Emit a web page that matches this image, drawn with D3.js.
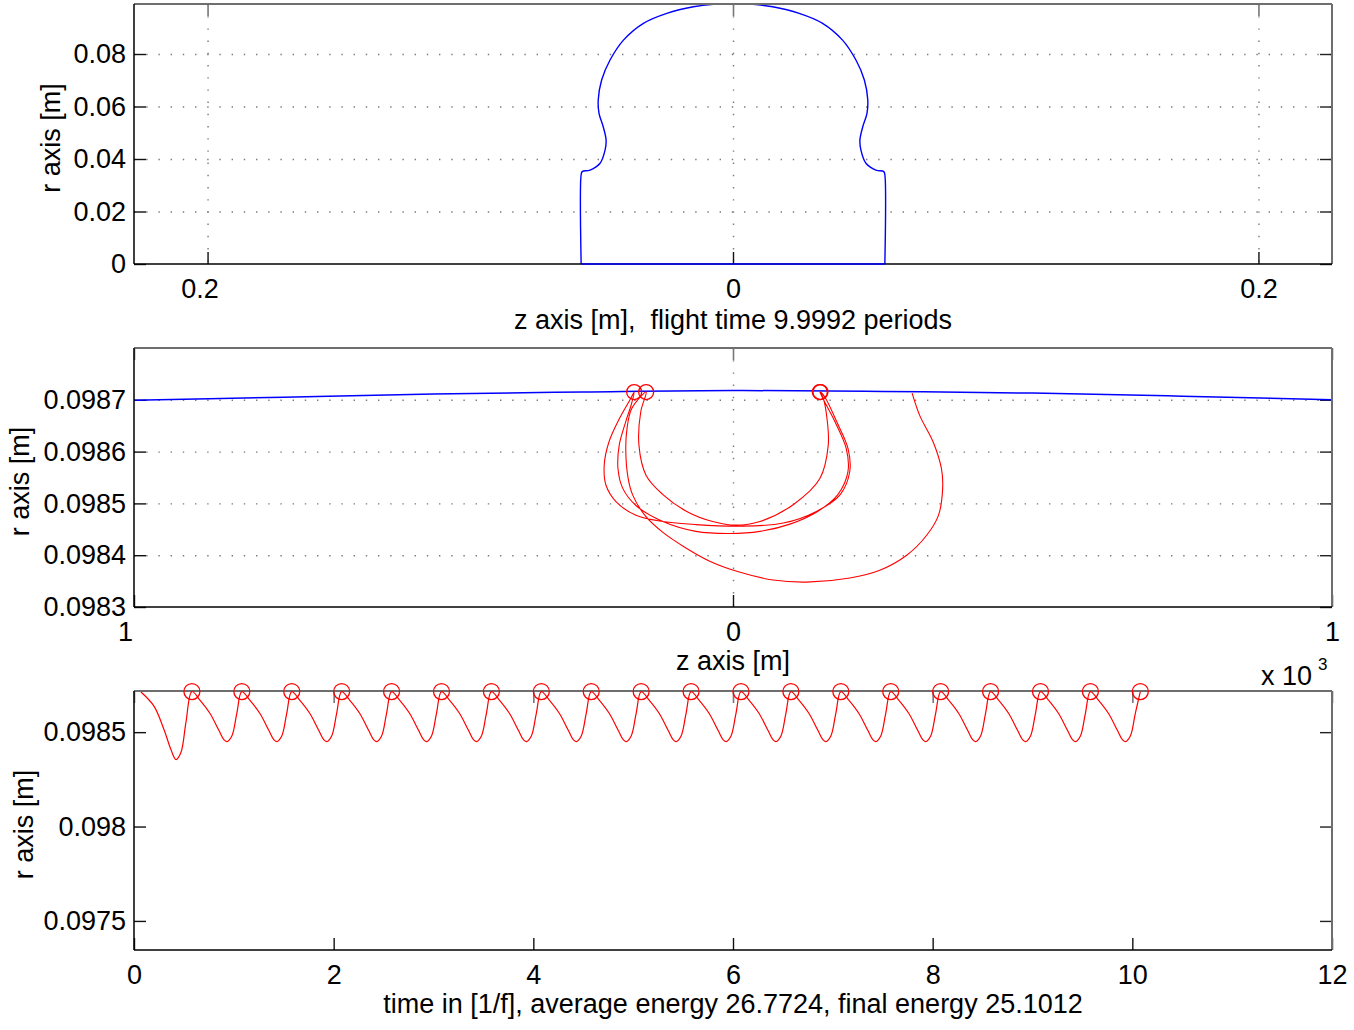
<!DOCTYPE html>
<html>
<head>
<meta charset="utf-8">
<script src="https://cdn.jsdelivr.net/npm/d3@7"></script>
<style>
body { margin: 0; background: #fff; }
svg text { white-space: pre; }
</style>
</head>
<body>
<svg id="chart" width="1354" height="1030"></svg>
<script>
'use strict';

// ---- panel 1: electrode profile (z, r in metres)
const electrodeZ = [-0.0578, -0.0578, -0.0574, -0.0544, -0.0506, -0.0487, -0.0483, -0.0494, -0.0510, -0.0513,
    -0.0500, -0.0468, -0.0417, -0.0341, -0.0252, -0.0151, -0.0075, 0,
    0.0075, 0.0151, 0.0252, 0.0341, 0.0417, 0.0468, 0.0500, 0.0513, 0.0510, 0.0494,
    0.0483, 0.0487, 0.0506, 0.0544, 0.0574, 0.0578, 0.0578];
const electrodeR = [0, 0.0340, 0.0352, 0.0358, 0.0384, 0.0434, 0.0472, 0.0523, 0.0574, 0.0625,
    0.0701, 0.0777, 0.0853, 0.0917, 0.0955, 0.0980, 0.0989, 0.0990,
    0.0989, 0.0980, 0.0955, 0.0917, 0.0853, 0.0777, 0.0701, 0.0625, 0.0574, 0.0523,
    0.0472, 0.0434, 0.0384, 0.0358, 0.0352, 0.0340, 0];
const p1XTicks = [-0.2, 0, 0.2];
const p1YTicks = [0, 0.02, 0.04, 0.06, 0.08];

// ---- panel 2: zoom near the surface (z in 1e-3 m, r in m)
const surfaceZ = [-1, -0.75, -0.5, -0.25, 0, 0.25, 0.5, 0.75, 1];
const surfaceR = [0.098699, 0.098705, 0.098711, 0.098715, 0.098718, 0.098716, 0.098713, 0.098707, 0.098700];
const orbitZ = [
    0.299, 0.312, 0.334, 0.348, 0.350, 0.343, 0.323, 0.290, 0.245, 0.195, 0.123, 0.067, 0.012, -0.038,
    -0.080, -0.117, -0.147, -0.167, -0.175, -0.179, -0.177, -0.169, -0.145,
    -0.154, -0.157, -0.145, -0.117, -0.078, -0.034, 0.005, 0.045, 0.101, 0.145, 0.159, 0.157, 0.151, 0.146,
    0.154, 0.173, 0.192, 0.195, 0.179, 0.140, 0.084, 0.012, -0.062, -0.117, -0.162, -0.195, -0.212, -0.215,
    -0.207, -0.190, -0.170, -0.165,
    -0.170, -0.179, -0.190, -0.192, -0.184, -0.162, -0.117, -0.062, -0.006, 0.045, 0.095, 0.142, 0.175,
    0.192, 0.189, 0.170, 0.152, 0.145];
const orbitR = [
    0.098713, 0.098669, 0.098619, 0.098567, 0.098529, 0.098477, 0.098438, 0.098400, 0.098371, 0.098356, 0.098348, 0.098352, 0.098367, 0.098388,
    0.098415, 0.098444, 0.098477, 0.098515, 0.098548, 0.098602, 0.098644, 0.098683, 0.098715,
    0.098677, 0.098612, 0.098554, 0.098517, 0.098485, 0.098465, 0.098458, 0.098465, 0.098498, 0.098548, 0.098612, 0.098663, 0.098702, 0.098715,
    0.098704, 0.098658, 0.098606, 0.098562, 0.098517, 0.098485, 0.098462, 0.098456, 0.098459, 0.098465, 0.098477, 0.098503, 0.098535, 0.098574,
    0.098619, 0.098663, 0.098704, 0.098715,
    0.098690, 0.098658, 0.098612, 0.098567, 0.098529, 0.098496, 0.098465, 0.098446, 0.098442, 0.098446, 0.098460, 0.098485, 0.098517,
    0.098562, 0.098606, 0.098658, 0.098698, 0.098715];
const hitZ = [-0.165, -0.145, 0.146, 0.145];
const hitR = [0.098715, 0.098715, 0.098715, 0.098715];
const p2XTicks = [-1, 0, 1];
const p2YTicks = [0.0983, 0.0984, 0.0985, 0.0986, 0.0987];

// ---- panel 3: r against time (time in 1/f, r in m)
const timeT = [
    0.07, 0.20, 0.30, 0.37, 0.42, 0.47, 0.52, 0.58,
    0.66, 0.76, 0.85, 0.90, 0.93, 0.98, 1.03, 1.08,
    1.16, 1.26, 1.35, 1.40, 1.43, 1.48, 1.53, 1.58,
    1.66, 1.76, 1.85, 1.90, 1.93, 1.98, 2.03, 2.08,
    2.16, 2.26, 2.35, 2.40, 2.43, 2.48, 2.53, 2.58,
    2.66, 2.76, 2.85, 2.90, 2.93, 2.98, 3.03, 3.08,
    3.16, 3.26, 3.35, 3.40, 3.43, 3.48, 3.53, 3.58,
    3.66, 3.76, 3.85, 3.90, 3.93, 3.98, 4.03, 4.08,
    4.16, 4.26, 4.35, 4.40, 4.43, 4.48, 4.53, 4.58,
    4.66, 4.76, 4.85, 4.90, 4.93, 4.98, 5.03, 5.08,
    5.16, 5.26, 5.35, 5.40, 5.43, 5.48, 5.53, 5.58,
    5.66, 5.76, 5.85, 5.90, 5.93, 5.98, 6.03, 6.08,
    6.16, 6.26, 6.35, 6.40, 6.43, 6.48, 6.53, 6.58,
    6.66, 6.76, 6.85, 6.90, 6.93, 6.98, 7.03, 7.08,
    7.16, 7.26, 7.35, 7.40, 7.43, 7.48, 7.53, 7.58,
    7.66, 7.76, 7.85, 7.90, 7.93, 7.98, 8.03, 8.08,
    8.16, 8.26, 8.35, 8.40, 8.43, 8.48, 8.53, 8.58,
    8.66, 8.76, 8.85, 8.90, 8.93, 8.98, 9.03, 9.08,
    9.16, 9.26, 9.35, 9.40, 9.43, 9.48, 9.53, 9.58,
    9.66, 9.76, 9.85, 9.90, 9.93, 9.98, 10.03, 10.08];
const timeR = [
    0.098713, 0.098638, 0.098514, 0.098408, 0.098355, 0.098392, 0.098551, 0.098715,
    0.09867, 0.09860, 0.09851, 0.09846, 0.09845, 0.09848, 0.09860, 0.098715,
    0.09867, 0.09860, 0.09851, 0.09846, 0.09845, 0.09848, 0.09860, 0.098715,
    0.09867, 0.09860, 0.09851, 0.09846, 0.09845, 0.09848, 0.09860, 0.098715,
    0.09867, 0.09860, 0.09851, 0.09846, 0.09845, 0.09848, 0.09860, 0.098715,
    0.09867, 0.09860, 0.09851, 0.09846, 0.09845, 0.09848, 0.09860, 0.098715,
    0.09867, 0.09860, 0.09851, 0.09846, 0.09845, 0.09848, 0.09860, 0.098715,
    0.09867, 0.09860, 0.09851, 0.09846, 0.09845, 0.09848, 0.09860, 0.098715,
    0.09867, 0.09860, 0.09851, 0.09846, 0.09845, 0.09848, 0.09860, 0.098715,
    0.09867, 0.09860, 0.09851, 0.09846, 0.09845, 0.09848, 0.09860, 0.098715,
    0.09867, 0.09860, 0.09851, 0.09846, 0.09845, 0.09848, 0.09860, 0.098715,
    0.09867, 0.09860, 0.09851, 0.09846, 0.09845, 0.09848, 0.09860, 0.098715,
    0.09867, 0.09860, 0.09851, 0.09846, 0.09845, 0.09848, 0.09860, 0.098715,
    0.09867, 0.09860, 0.09851, 0.09846, 0.09845, 0.09848, 0.09860, 0.098715,
    0.09867, 0.09860, 0.09851, 0.09846, 0.09845, 0.09848, 0.09860, 0.098715,
    0.09867, 0.09860, 0.09851, 0.09846, 0.09845, 0.09848, 0.09860, 0.098715,
    0.09867, 0.09860, 0.09851, 0.09846, 0.09845, 0.09848, 0.09860, 0.098715,
    0.09867, 0.09860, 0.09851, 0.09846, 0.09845, 0.09848, 0.09860, 0.098715,
    0.09867, 0.09860, 0.09851, 0.09846, 0.09845, 0.09848, 0.09860, 0.098715,
    0.09867, 0.09860, 0.09851, 0.09846, 0.09845, 0.09848, 0.09860, 0.098715];
const peakT = [0.58, 1.08, 1.58, 2.08, 2.58, 3.08, 3.58, 4.08, 4.58, 5.08,
    5.58, 6.08, 6.58, 7.08, 7.58, 8.08, 8.58, 9.08, 9.58, 10.08];
const peakR = [0.098715, 0.098715, 0.098715, 0.098715, 0.098715, 0.098715, 0.098715, 0.098715, 0.098715, 0.098715,
    0.098715, 0.098715, 0.098715, 0.098715, 0.098715, 0.098715, 0.098715, 0.098715, 0.098715, 0.098715];
const p3XTicks = [0, 2, 4, 6, 8, 10, 12];
const p3YTicks = [0.0975, 0.098, 0.0985];

const p1XLabel = 'z axis [m],  flight time 9.9992 periods';
const p2XLabel = 'z axis [m]';
const p3XLabel = 'time in [1/f], average energy 26.7724, final energy 25.1012';
const yLabel = 'r axis [m]';

// layout
const FONT = '"Liberation Sans", Arial, Helvetica, sans-serif';
const FS = 27;
const L = 134, R = 1332, TICK = 12;
const RED = '#ff0000', BLUE = '#0000ff';

const svg = d3.select('#chart');
svg.append('rect').attr('width', 1354).attr('height', 1030).attr('fill', '#fff');

let styleText = (sel) => sel.attr('font-family', FONT).attr('font-size', FS).attr('fill', '#000');

let drawPanel = (p) => {
    const x = d3.scaleLinear().domain(p.xDomain).range([L, R]);
    const y = d3.scaleLinear().domain(p.yDomain).range([p.bottom, p.top]);
    const w = R - L, h = p.bottom - p.top;
    const g = svg.append('g');

    if (p.grid) {
        const gx = g.append('g').attr('transform', `translate(0,${p.top})`)
            .call(d3.axisBottom(x).tickValues(p.xTicks.filter(v => v > p.xDomain[0] && v < p.xDomain[1]))
                .tickSize(h).tickFormat(''));
        const gy = g.append('g').attr('transform', `translate(${L},0)`)
            .call(d3.axisRight(y).tickValues(p.yTicks.filter(v => v > p.yDomain[0] && v < p.yDomain[1]))
                .tickSize(w).tickFormat(''));
        [gx, gy].forEach(s => {
            s.select('.domain').remove();
            s.selectAll('.tick line').attr('stroke', '#7a7a7a').attr('stroke-width', 1.4)
                .attr('stroke-dasharray', '1.4,10.8');
        });
    }

    // ticks on all four sides, pointing inward
    const bottom = g.append('g').attr('transform', `translate(0,${p.bottom})`)
        .call(d3.axisBottom(x).tickValues(p.xTicks).tickSizeInner(-TICK).tickSizeOuter(0)
            .tickPadding(15).tickFormat(p.xFormat));
    const top = g.append('g').attr('transform', `translate(0,${p.top})`)
        .call(d3.axisTop(x).tickValues(p.xTicks).tickSizeInner(-TICK).tickSizeOuter(0).tickFormat(''));
    const left = g.append('g').attr('transform', `translate(${L},0)`)
        .call(d3.axisLeft(y).tickValues(p.yTicks).tickSizeInner(-TICK).tickSizeOuter(0)
            .tickPadding(8).tickFormat(p.yFormat));
    const right = g.append('g').attr('transform', `translate(${R},0)`)
        .call(d3.axisRight(y).tickValues(p.yTicks).tickSizeInner(-TICK).tickSizeOuter(0).tickFormat(''));
    [bottom, top, left, right].forEach(s => s.select('.domain').remove());
    bottom.selectAll('.tick line').attr('stroke', '#111').attr('stroke-width', 1.4);
    left.selectAll('.tick line').attr('stroke', '#111').attr('stroke-width', 1.4);
    right.selectAll('.tick line').attr('stroke', '#222').attr('stroke-width', 1.4);
    top.selectAll('.tick line').attr('stroke', '#777').attr('stroke-width', 1.6);
    [bottom, left].forEach(s => styleText(s.selectAll('text')));
    // minus signs are missing in the original labels, the text stays where "-x" was centred
    bottom.selectAll('text').attr('dx', d => d < 0 ? p.negShift : 0);

    const plot = g.append('g');

    // box
    g.append('line').attr('x1', L).attr('x2', R).attr('y1', p.top).attr('y2', p.top)
        .attr('stroke', '#6e6e6e').attr('stroke-width', 2);
    g.append('line').attr('x1', R).attr('x2', R).attr('y1', p.top).attr('y2', p.bottom)
        .attr('stroke', '#6e6e6e').attr('stroke-width', 2);
    g.append('line').attr('x1', L).attr('x2', R).attr('y1', p.bottom).attr('y2', p.bottom)
        .attr('stroke', '#000').attr('stroke-width', 1.5);
    g.append('line').attr('x1', L).attr('x2', L).attr('y1', p.top).attr('y2', p.bottom)
        .attr('stroke', '#000').attr('stroke-width', 1.5);

    // axis titles
    styleText(g.append('text')).attr('x', 733).attr('y', p.xLabelY)
        .attr('text-anchor', 'middle').text(p.xLabel);
    const cy = (p.top + p.bottom) / 2 + 4;
    styleText(g.append('text')).attr('transform', `translate(${p.yLabelX},${cy}) rotate(-90)`)
        .attr('dy', '0.35em').attr('text-anchor', 'middle').text(yLabel);

    const over = g.append('g');
    return { x, y, plot, over };
};

let catmull = d3.curveCatmullRom.alpha(0.5);

// ---- panel 1
const p1 = drawPanel({
    top: 4, bottom: 264, xDomain: [-0.228, 0.228], yDomain: [0, 0.09905],
    xTicks: p1XTicks, yTicks: p1YTicks, grid: true, negShift: -8,
    xFormat: d => d === 0 ? '0' : Math.abs(d).toFixed(1),
    yFormat: d => d === 0 ? '0' : d.toFixed(2),
    xLabel: p1XLabel, xLabelY: 329, yLabelX: 51
});
const electrode = electrodeZ.map((z, i) => [z, electrodeR[i]]);
p1.plot.append('path').datum(electrode)
    .attr('d', d3.line().x(d => p1.x(d[0])).y(d => p1.y(d[1])).curve(catmull))
    .attr('fill', 'none').attr('stroke', BLUE).attr('stroke-width', 1.4);
p1.over.append('path').datum([electrode[0], electrode[electrode.length - 1]])
    .attr('d', d3.line().x(d => p1.x(d[0])).y(d => p1.y(d[1])))
    .attr('fill', 'none').attr('stroke', BLUE).attr('stroke-width', 1.4);

// ---- panel 2
const p2 = drawPanel({
    top: 348, bottom: 607, xDomain: [-1, 1], yDomain: [0.0983, 0.0988],
    xTicks: p2XTicks, yTicks: p2YTicks, grid: true, negShift: -9,
    xFormat: d => String(Math.abs(d)),
    yFormat: d => d.toFixed(4),
    xLabel: p2XLabel, xLabelY: 670, yLabelX: 20
});
p2.plot.append('path').datum(surfaceZ.map((z, i) => [z, surfaceR[i]]))
    .attr('d', d3.line().x(d => p2.x(d[0])).y(d => p2.y(d[1])).curve(d3.curveMonotoneX))
    .attr('fill', 'none').attr('stroke', BLUE).attr('stroke-width', 1.5);
p2.plot.append('path').datum(orbitZ.map((z, i) => [z, orbitR[i]]))
    .attr('d', d3.line().x(d => p2.x(d[0])).y(d => p2.y(d[1])).curve(catmull))
    .attr('fill', 'none').attr('stroke', RED).attr('stroke-width', 1.1);
p2.plot.selectAll('circle').data(hitZ.map((z, i) => [z, hitR[i]])).enter().append('circle')
    .attr('cx', d => p2.x(d[0])).attr('cy', d => p2.y(d[1])).attr('r', 7.5)
    .attr('fill', 'none').attr('stroke', RED).attr('stroke-width', 1.3);

// exponent of the panel 2 z axis
styleText(svg.append('text')).attr('x', 1261).attr('y', 685).text('x 10');
styleText(svg.append('text')).attr('x', 1318).attr('y', 670).attr('font-size', 17).text('3');

// ---- panel 3
const p3 = drawPanel({
    top: 691, bottom: 950, xDomain: [0, 12], yDomain: [0.097346, 0.098718],
    xTicks: p3XTicks, yTicks: p3YTicks, grid: false, negShift: 0,
    xFormat: d => String(d),
    yFormat: d => String(+d.toFixed(4)),
    xLabel: p3XLabel, xLabelY: 1013, yLabelX: 24
});
p3.over.append('path').datum(timeT.map((t, i) => [t, timeR[i]]))
    .attr('d', d3.line().x(d => p3.x(d[0])).y(d => p3.y(d[1])).curve(catmull))
    .attr('fill', 'none').attr('stroke', RED).attr('stroke-width', 1.2);
p3.over.selectAll('circle').data(peakT.map((t, i) => [t, peakR[i]])).enter().append('circle')
    .attr('cx', d => p3.x(d[0])).attr('cy', d => p3.y(d[1])).attr('r', 8)
    .attr('fill', 'none').attr('stroke', RED).attr('stroke-width', 1.3);
</script>
</body>
</html>
